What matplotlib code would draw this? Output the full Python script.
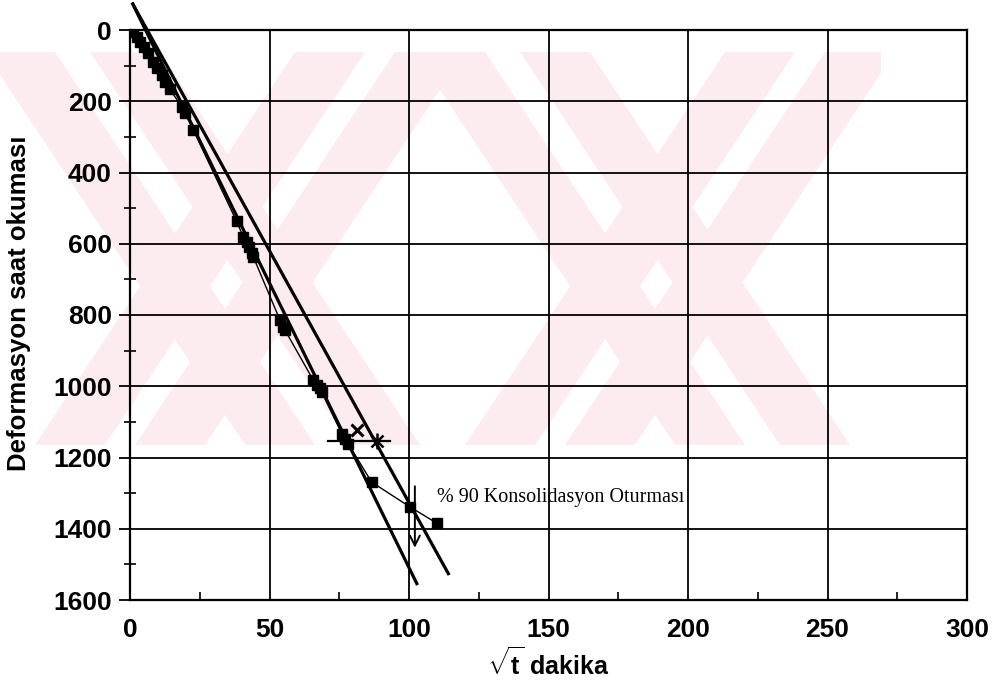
import matplotlib
matplotlib.use('Agg')
import matplotlib.pyplot as plt
from matplotlib.patches import Polygon, Rectangle
from matplotlib.ticker import MultipleLocator

plt.rcParams['font.family'] = ['Liberation Sans', 'DejaVu Sans']
plt.rcParams['mathtext.fontset'] = 'custom'
plt.rcParams['mathtext.rm'] = 'Liberation Sans'
plt.rcParams['mathtext.bf'] = 'Liberation Sans:bold'

# okumalar (karekok t, deformasyon saati)
sqrt_t = [0.4, 1.2, 2.4, 3.6, 5.0, 6.6, 8.1, 9.6, 11.4, 12.5, 14.2,
          18.5, 19.7, 22.7, 38.2, 40.6, 41.8, 42.8, 43.6, 44.2,
          53.8, 55.0, 55.6, 65.7, 66.9, 68.1, 68.7, 75.9, 77.1, 78.2,
          86.6, 100.4, 109.9]
defo = [0, 5, 19, 33, 47, 65, 89, 108, 126, 145, 165,
        215, 234, 281, 537, 580, 595, 609, 627, 637,
        815, 833, 843, 983, 997, 1006, 1016, 1133, 1147, 1161,
        1269, 1339, 1384]

# Taylor yontemi dogrulari
line_a_x = [1.0, 102.8]
line_a_y = [-73, 1554]
line_b_x = [1.0, 114.1]
line_b_y = [-73, 1526]

# yardimci isaretler
hline_x = [71.1, 93.2]
hline_y = 1154
cross_pt = (81.2, 1124)
star_pt = (88.4, 1154)
arrow_x = 102.1
arrow_y = [1273, 1461]
note_pt = (110, 1311)
note_txt = '% 90 Konsolidasyon Oturması'

W, H = 997, 686
fig = plt.figure(figsize=(W / 100, H / 100), dpi=100)
ax = fig.add_axes([130 / W, 86 / H, 837 / W, 570 / H])
ax.patch.set_visible(False)

# soluk pembe filigran (piksel koordinatlari)
pink = '#fdecef'
clip = Rectangle((0, 1 - 445 / H), 881 / W, (445 - 52) / H,
                 transform=fig.transFigure, visible=False)
fig.add_artist(clip)
bands = [(20, 280), (125, 385), (430, 170), (330, 70),
         (450, 710), (555, 815), (860, 600), (760, 500)]
bw = 70
for tx, bx in bands:
    pts = [((tx - bw / 2) / W, 1 - 52 / H), ((tx + bw / 2) / W, 1 - 52 / H),
           ((bx + bw / 2) / W, 1 - 445 / H), ((bx - bw / 2) / W, 1 - 445 / H)]
    p = Polygon(pts, closed=True, transform=fig.transFigure,
                facecolor=pink, edgecolor='none', zorder=-1)
    p.set_clip_path(clip)
    fig.add_artist(p)

ax.plot(sqrt_t, defo, color='black', lw=1.0, marker='s', ms=7,
        mfc='black', mec='black', zorder=4)
ax.plot(line_a_x, line_a_y, color='black', lw=2.3, clip_on=False, zorder=5)
ax.plot(line_b_x, line_b_y, color='black', lw=2.3, clip_on=False, zorder=5)

ax.plot(hline_x, [hline_y, hline_y], color='black', lw=1.6, zorder=5)
ax.plot(*cross_pt, marker='x', ms=9, mew=2.2, color='black', zorder=6)
ax.plot(*star_pt, marker='x', ms=9, mew=1.8, color='black', zorder=6)
ax.plot(*star_pt, marker='|', ms=11, mew=1.8, color='black', zorder=6)
ax.annotate('', xy=(arrow_x, arrow_y[1]), xytext=(arrow_x, arrow_y[0]),
            arrowprops=dict(arrowstyle='->', color='black', lw=1.4,
                            mutation_scale=18), zorder=6)
ax.text(note_pt[0], note_pt[1], note_txt, family='Liberation Serif',
        fontsize=14.5, va='center', ha='left', zorder=6)

ax.set_xlim(0, 300)
ax.set_ylim(1600, 0)
ax.xaxis.set_major_locator(MultipleLocator(50))
ax.xaxis.set_minor_locator(MultipleLocator(25))
ax.yaxis.set_major_locator(MultipleLocator(200))
ax.yaxis.set_minor_locator(MultipleLocator(100))
ax.grid(True, which='major', color='black', lw=1.3)
ax.set_axisbelow(True)

ax.tick_params(axis='y', which='major', direction='out', length=8,
               width=1.3, labelsize=19, pad=5)
ax.tick_params(axis='y', which='minor', direction='inout', length=8, width=1.2)
ax.tick_params(axis='x', which='major', length=0, labelsize=19, pad=13)
ax.tick_params(axis='x', which='minor', direction='in', length=6, width=1.2)
for lbl in ax.get_xticklabels() + ax.get_yticklabels():
    lbl.set_fontweight('bold')
for s in ax.spines.values():
    s.set_linewidth(1.6)

ax.set_xlabel(r'$\sqrt{\mathbf{t}}$ dakika', fontsize=18, fontweight='bold',
              labelpad=4)
ax.set_ylabel('Deformasyon saat okuması', fontsize=18.5, fontweight='bold',
              labelpad=8)
ax.yaxis.set_label_coords(-0.118, 0.52)

fig.savefig('out.png', dpi=100)
